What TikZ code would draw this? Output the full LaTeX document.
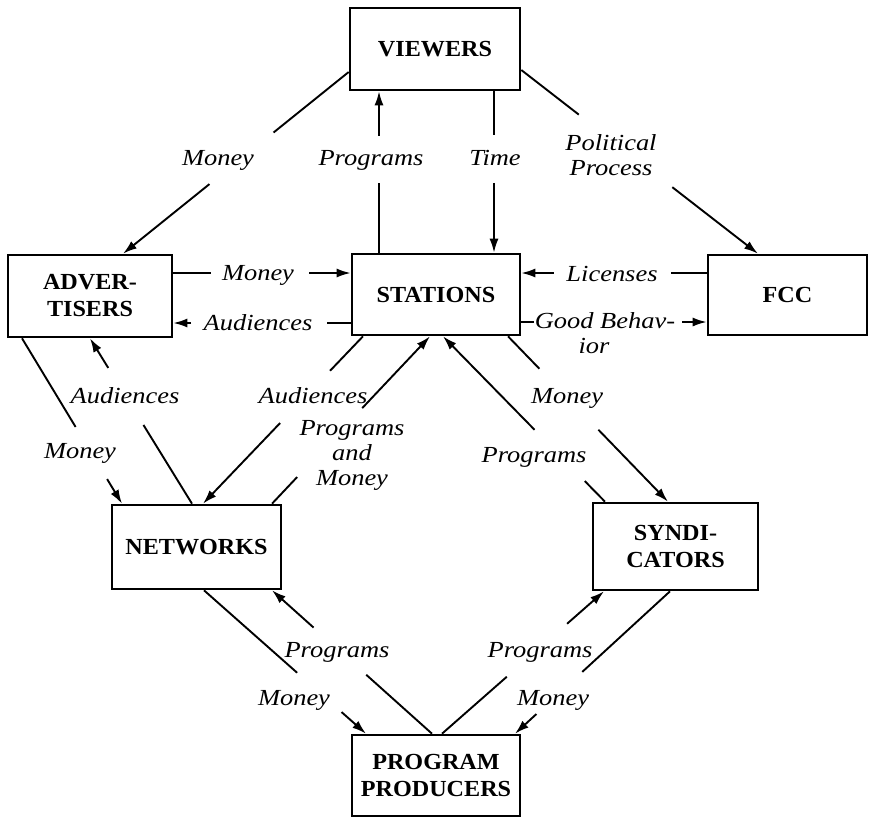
\documentclass[tikz,border=0pt]{standalone}
\usepackage{fontspec}
\setmainfont{Liberation Serif}
\newfontfamily\lblfont{Liberation Serif}[FakeStretch=1.15]
\newfontfamily\boxfontfam{Liberation Serif}[FakeStretch=1.05]
\usetikzlibrary{arrows.meta}
\begin{document}
\begin{tikzpicture}[x=1pt,y=-1pt,
  box/.style={draw,line width=2.6pt,inner sep=0pt,align=center,font=\boxfontfam\bfseries\fontsize{23}{27}\selectfont},
  lbl/.style={inner sep=0pt,align=center,anchor=base,font=\lblfont\itshape\fontsize{23}{25}\selectfont},
  conn/.style={line width=1.9pt},
  arr/.style={conn,-{Latex[length=14pt,width=9pt]}}]
\useasboundingbox[fill=white] (0,0) rectangle (870,820);

% boxes
\node[box,minimum width=170pt,minimum height=82pt] (viewers) at (435,49) {VIEWERS};
\node[box,minimum width=164pt,minimum height=82pt] (adv) at (90,296) {ADVER-\\TISERS};
\node[box,minimum width=168pt,minimum height=81pt] (stations) at (436,294.5) {STATIONS};
\node[box,minimum width=159pt,minimum height=80pt] (fcc) at (787.5,295) {FCC};
\node[box,minimum width=169pt,minimum height=84pt] (networks) at (196.5,547) {NETWORKS};
\node[box,minimum width=165pt,minimum height=87pt] (synd) at (675.5,546.5) {SYNDI-\\CATORS};
\node[box,minimum width=168pt,minimum height=81pt] (pp) at (436,775.5) {PROGRAM\\PRODUCERS};

% labels (anchor=base is the baseline of the last line)
\node[lbl] (l1) at (218,165) {Money};
\node[lbl] (l2) at (371,165) {Programs};
\node[lbl] (l3) at (495,165) {Time};
\node[lbl] (l4) at (611,175) {Political\\Process};
\node[lbl] (l5) at (258,280) {Money};
\node[lbl] (l6) at (258,330) {Audiences};
\node[lbl] (l7) at (612,281) {Licenses};
\node[lbl] (l8) at (605,353) {Good Behav-\\ior\hspace*{22pt}};
\node[lbl] (l9) at (125,403) {Audiences};
\node[lbl] (l10) at (313,403) {Audiences};
\node[lbl] (l11) at (80,458) {Money};
\node[lbl] (l12) at (352,485) {Programs\\and\\Money};
\node[lbl] (l13) at (567,403) {Money};
\node[lbl] (l14) at (534,462) {Programs};
\node[lbl] (l15) at (337,657) {Programs};
\node[lbl] (l16) at (294,705) {Money};
\node[lbl] (l17) at (540,657) {Programs};
\node[lbl] (l18) at (553,705) {Money};

% 1 viewers -> advertisers (Money)
\path (viewers.west |- 0,72) -- coordinate[pos=0.333] (a1) coordinate[pos=0.617] (b1) (123,0 |- adv.north);
\draw[conn] (viewers.west |- 0,72) -- (a1);
\draw[arr] (b1) -- (123,0 |- adv.north);
% 2 stations -> viewers (Programs)
\path (379,0 |- stations.north) -- coordinate[pos=0.433] (a2) coordinate[pos=0.726] (b2) (379,0 |- viewers.south);
\draw[conn] (379,0 |- stations.north) -- (a2);
\draw[arr] (b2) -- (379,0 |- viewers.south);
% 3 viewers -> stations (Time)
\path (494,0 |- viewers.south) -- coordinate[pos=0.268] (a3) coordinate[pos=0.567] (b3) (494,0 |- stations.north);
\draw[conn] (494,0 |- viewers.south) -- (a3);
\draw[arr] (b3) -- (494,0 |- stations.north);
% 4 viewers -> fcc (Political Process)
\path (viewers.east |- 0,70) -- coordinate[pos=0.243] (a4) coordinate[pos=0.638] (b4) (758,0 |- fcc.north);
\draw[conn] (viewers.east |- 0,70) -- (a4);
\draw[arr] (b4) -- (758,0 |- fcc.north);
% 5 advertisers -> stations (Money)
\path (adv.east |- 0,273) -- coordinate[pos=0.211] (a5) coordinate[pos=0.767] (b5) (stations.west |- 0,273);
\draw[conn] (adv.east |- 0,273) -- (a5);
\draw[arr] (b5) -- (stations.west |- 0,273);
% 6 stations -> advertisers (Audiences)
\path (stations.west |- 0,323) -- coordinate[pos=0.133] (a6) coordinate[pos=0.9] (b6) (adv.east |- 0,323);
\draw[conn] (stations.west |- 0,323) -- (a6);
\draw[arr] (b6) -- (adv.east |- 0,323);
% 7 fcc -> stations (Licenses)
\path (fcc.west |- 0,273) -- coordinate[pos=0.191] (a7) coordinate[pos=0.824] (b7) (stations.east |- 0,273);
\draw[conn] (fcc.west |- 0,273) -- (a7);
\draw[arr] (b7) -- (stations.east |- 0,273);
% 8 stations -> fcc (Good Behavior)
\path (stations.east |- 0,322) -- coordinate[pos=0.069] (a8) coordinate[pos=0.867] (b8) (fcc.west |- 0,322);
\draw[conn] (stations.east |- 0,322) -- (a8);
\draw[arr] (b8) -- (fcc.west |- 0,322);
% 9 stations -> networks (Audiences)
\path (363,0 |- stations.south) -- coordinate[pos=0.206] (a9) coordinate[pos=0.518] (b9) (203,0 |- networks.north);
\draw[conn] (363,0 |- stations.south) -- (a9);
\draw[arr] (b9) -- (203,0 |- networks.north);
% 10 networks -> stations (Programs and Money)
\path (272,0 |- networks.north) -- coordinate[pos=0.159] (a10) coordinate[pos=0.571] (b10) (430,0 |- stations.south);
\draw[conn] (272,0 |- networks.north) -- (a10);
\draw[arr] (b10) -- (430,0 |- stations.south);
% 11 syndicators -> stations (Programs)
\path (605,0 |- synd.north) -- coordinate[pos=0.125] (a11) coordinate[pos=0.435] (b11) (443,0 |- stations.south);
\draw[conn] (605,0 |- synd.north) -- (a11);
\draw[arr] (b11) -- (443,0 |- stations.south);
% 12 stations -> syndicators (Money)
\path (508,0 |- stations.south) -- coordinate[pos=0.196] (a12) coordinate[pos=0.565] (b12) (668,0 |- synd.north);
\draw[conn] (508,0 |- stations.south) -- (a12);
\draw[arr] (b12) -- (668,0 |- synd.north);
% 13 advertisers -> networks (Money)
\path (22,0 |- adv.south) -- coordinate[pos=0.536] (a13) coordinate[pos=0.851] (b13) (122,0 |- networks.north);
\draw[conn] (22,0 |- adv.south) -- (a13);
\draw[arr] (b13) -- (122,0 |- networks.north);
% 14 networks -> advertisers (Audiences)
\path (192,0 |- networks.north) -- coordinate[pos=0.476] (a14) coordinate[pos=0.821] (b14) (90,0 |- adv.south);
\draw[conn] (192,0 |- networks.north) -- (a14);
\draw[arr] (b14) -- (90,0 |- adv.south);
% 15 networks -> producers (Money)
\path (204,0 |- networks.south) -- coordinate[pos=0.575] (a15) coordinate[pos=0.849] (b15) (366,0 |- pp.north);
\draw[conn] (204,0 |- networks.south) -- (a15);
\draw[arr] (b15) -- (366,0 |- pp.north);
% 16 producers -> networks (Programs)
\path (432,0 |- pp.north) -- coordinate[pos=0.411] (a16) coordinate[pos=0.74] (b16) (272,0 |- networks.south);
\draw[conn] (432,0 |- pp.north) -- (a16);
\draw[arr] (b16) -- (272,0 |- networks.south);
% 17 producers -> syndicators (Programs)
\path (442,0 |- pp.north) -- coordinate[pos=0.4] (a17) coordinate[pos=0.772] (b17) (604,0 |- synd.south);
\draw[conn] (442,0 |- pp.north) -- (a17);
\draw[arr] (b17) -- (604,0 |- synd.south);
% 18 syndicators -> producers (Money)
\path (670,0 |- synd.south) -- coordinate[pos=0.566] (a18) coordinate[pos=0.862] (b18) (515,0 |- pp.north);
\draw[conn] (670,0 |- synd.south) -- (a18);
\draw[arr] (b18) -- (515,0 |- pp.north);
\end{tikzpicture}
\end{document}
